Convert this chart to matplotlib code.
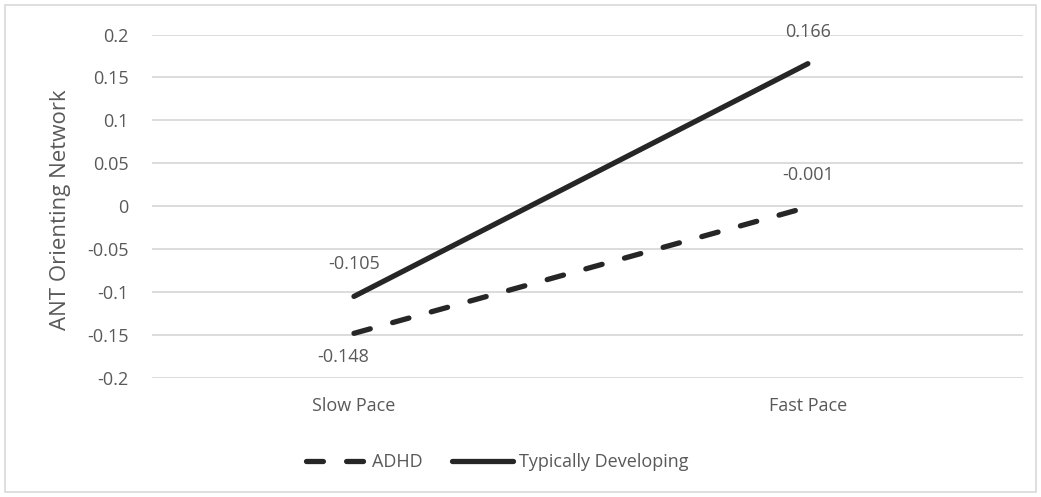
import matplotlib
matplotlib.use("Agg")
import matplotlib.pyplot as plt

# ---------------- DATA ---------------- #
categories = ["Slow Pace", "Fast Pace"]
adhd = [-0.148, -0.001]
typical = [-0.105, 0.166]
series_names = ["ADHD", "Typically Developing"]
y_ticks = [-0.2, -0.15, -0.1, -0.05, 0, 0.05, 0.1, 0.15, 0.2]
y_tick_labels = ["-0.2", "-0.15", "-0.1", "-0.05", "0", "0.05", "0.1", "0.15", "0.2"]

# ---------------- STYLE ---------------- #
plt.rcParams["font.family"] = ["Open Sans", "DejaVu Sans"]
TEXT = "#595959"
LINE = "#262626"
GRID = "#d9d9d9"
FS = 13

fig = plt.figure(figsize=(10.41, 4.97), dpi=100)
ax = fig.add_axes([152 / 1041, 1 - 378 / 497, (1023 - 152) / 1041, (378 - 34.5) / 497])

x = list(range(len(categories)))

ax.plot(x, adhd, color=LINE, lw=3.8, linestyle=(0, (3.2, 4.4)),
        dash_capstyle="round", label=series_names[0])
ax.plot(x, typical, color=LINE, lw=3.8, solid_capstyle="round",
        label=series_names[1])

# data labels
ax.annotate(f"{typical[0]:g}", (x[0], typical[0]), xytext=(0, 23), textcoords="offset points",
            ha="center", va="center", fontsize=FS, color=TEXT)
ax.annotate(f"{adhd[0]:g}", (x[0], adhd[0]), xytext=(-8, -17), textcoords="offset points",
            ha="center", va="center", fontsize=FS, color=TEXT)
ax.annotate(f"{typical[1]:g}", (x[1], typical[1]), xytext=(0, 23), textcoords="offset points",
            ha="center", va="center", fontsize=FS, color=TEXT)
ax.annotate(f"{adhd[1]:g}", (x[1], adhd[1]), xytext=(0, 23), textcoords="offset points",
            ha="center", va="center", fontsize=FS, color=TEXT)

ax.set_ylim(-0.2, 0.2)
ax.set_xlim(-0.445, 1.474)
ax.set_yticks(y_ticks)
ax.set_yticklabels(y_tick_labels)
ax.set_xticks(x)
ax.set_xticklabels(categories)
ax.tick_params(axis="y", length=0, pad=17, labelsize=FS, labelcolor=TEXT)
ax.tick_params(axis="x", length=0, pad=14, labelsize=FS, labelcolor=TEXT)
ax.grid(axis="y", color=GRID, lw=1.3)
ax.set_axisbelow(True)
for s in ax.spines.values():
    s.set_visible(False)

ax.set_ylabel("ANT Orienting Network", fontsize=16, color=TEXT, va="center")
ax.yaxis.set_label_coords(-0.1056, 0.49)

fig.legend(loc="center", bbox_to_anchor=(497 / 1041, 1 - 462 / 497), ncol=2, frameon=False,
           fontsize=FS, labelcolor=TEXT, handlelength=3.4, handletextpad=0.3, columnspacing=1.6)

# outer chart border
fig.patches.append(plt.Rectangle((5 / 1041, 5 / 497), 1031 / 1041, 487 / 497,
                                 transform=fig.transFigure, fill=False, edgecolor=GRID, lw=1.2))

fig.savefig("out.png", dpi=100)
